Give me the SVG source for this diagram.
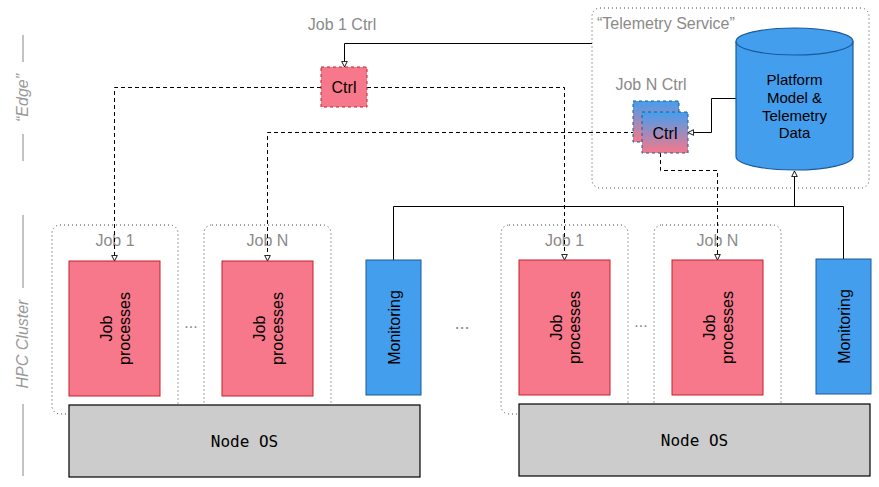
<svg xmlns="http://www.w3.org/2000/svg" width="879" height="487" viewBox="0 0 879 487">
<style>
.bg{fill:#ffffff}
.lbl{font-family:"Liberation Sans",Arial,Helvetica,sans-serif;font-size:16px;fill:#8a8a8a}
.side{font-family:"Liberation Sans",Arial,Helvetica,sans-serif;font-size:16px;fill:#999999;font-style:italic}
.txt{font-family:"Liberation Sans",Arial,Helvetica,sans-serif;font-size:16px;fill:#000000}
.ctxt{font-family:"Liberation Sans",Arial,Helvetica,sans-serif;font-size:16px;fill:#000000}
.dbtxt{font-family:"Liberation Sans",Arial,Helvetica,sans-serif;font-size:15px;fill:#000000}
.mono{font-family:"DejaVu Sans Mono","Liberation Mono",monospace;font-size:16px;fill:#000000}
.sideline{stroke:#888888;stroke-width:1;fill:none}
.group{fill:none;stroke:#444444;stroke-width:1;stroke-dasharray:1 3}
.job{fill:#F7788A;stroke:#C41E2A;stroke-width:1}
.mon{fill:#449EEE;stroke:#1A5A9A;stroke-width:1}
.os{fill:#CCCCCC;stroke:#000000;stroke-width:1.2}
.ctrl1{fill:#F7788A;stroke:#C41E2A;stroke-width:1;stroke-dasharray:3 3}
.ctrlN{fill:url(#gradN);stroke:#1A5A9A;stroke-width:1;stroke-dasharray:3 3}
.db{fill:#449EEE;stroke:#1A5A9A;stroke-width:1.2}
.solid{fill:none;stroke:#000000;stroke-width:1}
.dash{fill:none;stroke:#000000;stroke-width:1;stroke-dasharray:4 3}
.arr{marker-end:url(#open)}
</style>
<defs>
<linearGradient id="gradN" x1="0" y1="0" x2="0" y2="1">
<stop offset="0" stop-color="#449EEE"/>
<stop offset="1" stop-color="#F7788A"/>
</linearGradient>
<marker id="open" viewBox="0 0 10 10" refX="9" refY="5" markerWidth="7" markerHeight="7" markerUnits="userSpaceOnUse" orient="auto">
<path d="M1,1 L9,5 L1,9 Z" fill="#ffffff" stroke="#000000" stroke-width="1.3" stroke-dasharray="none"/>
</marker>
</defs>
<rect class="bg" x="0" y="0" width="879" height="487"/>

<g id="side-labels">
<line class="sideline" x1="23" y1="35" x2="23" y2="62"/>
<line class="sideline" x1="23" y1="134" x2="23" y2="161"/>
<text class="side" transform="translate(23,98) rotate(-90)" x="0" y="5" text-anchor="middle">“Edge”</text>
<line class="sideline" x1="23" y1="215" x2="23" y2="288"/>
<line class="sideline" x1="23" y1="404" x2="23" y2="476"/>
<text class="side" transform="translate(23,344) rotate(-90)" x="0" y="5" text-anchor="middle">HPC Cluster</text>
</g>

<g id="telemetry-service">
<rect class="group" x="592" y="8" width="277" height="180" rx="8"/>
<text class="lbl" x="597" y="28.5">“Telemetry Service”</text>
</g>

<g id="job1-left-group">
<rect class="group" x="52" y="225" width="126" height="189" rx="8"/>
<text class="lbl" x="115" y="245.5" text-anchor="middle">Job 1</text>
</g>
<g id="jobN-left-group">
<rect class="group" x="204" y="225" width="127" height="189" rx="8"/>
<text class="lbl" x="267.5" y="245.5" text-anchor="middle">Job N</text>
</g>
<g id="job1-right-group">
<rect class="group" x="501" y="225" width="127" height="189" rx="8"/>
<text class="lbl" x="564.5" y="245.5" text-anchor="middle">Job 1</text>
</g>
<g id="jobN-right-group">
<rect class="group" x="654" y="225" width="127" height="189" rx="8"/>
<text class="lbl" x="717.5" y="245.5" text-anchor="middle">Job N</text>
</g>

<g id="connectors">
<path class="solid arr" d="M592,43.5 H344.5 V67"/>
<path class="dash arr" d="M321,87.5 H114.5 V261"/>
<path class="dash arr" d="M367,87.5 H564.5 V260"/>
<path class="dash arr" d="M642,132.5 H267.5 V261"/>
<path class="dash arr" d="M660.5,153 V170.5 H717.5 V260"/>
<path class="solid arr" d="M736,98.5 H711.5 V132.5 H688"/>
<path class="solid" d="M393.5,260 V206.5 H843.5 V259"/>
<path class="solid arr" d="M794.5,206.5 V171"/>
</g>

<g id="job1-ctrl">
<text class="lbl" x="342" y="30" text-anchor="middle">Job 1 Ctrl</text>
<rect class="ctrl1" x="321" y="67" width="46" height="40"/>
<text class="ctxt" x="344" y="93" text-anchor="middle">Ctrl</text>
</g>

<g id="jobN-ctrl">
<text class="lbl" x="651" y="90" text-anchor="middle">Job N Ctrl</text>
<rect class="ctrlN" x="633" y="101" width="46" height="41"/>
<rect class="ctrlN" x="642" y="112" width="46" height="41"/>
<text class="ctxt" x="665" y="138.5" text-anchor="middle">Ctrl</text>
</g>

<g id="platform-db">
<path class="db" d="M736,41.5 A58.5,13.5 0 0 1 853,41.5 V156.5 A58.5,13.5 0 0 1 736,156.5 Z"/>
<path class="db" style="fill:none" d="M736,41.5 A58.5,13.5 0 0 0 853,41.5"/>
<text class="dbtxt" x="794.5" y="84.5" text-anchor="middle">Platform</text>
<text class="dbtxt" x="794.5" y="102.5" text-anchor="middle">Model &amp;</text>
<text class="dbtxt" x="794.5" y="120.5" text-anchor="middle">Telemetry</text>
<text class="dbtxt" x="794.5" y="138" text-anchor="middle">Data</text>
</g>

<g id="left-job1-processes">
<rect class="job" x="69" y="261" width="91" height="135"/>
<text class="txt" transform="translate(114.5,328.5) rotate(-90)" text-anchor="middle"><tspan x="0" y="-3">Job</tspan><tspan x="0" y="15">processes</tspan></text>
</g>
<g id="left-jobN-processes">
<rect class="job" x="222" y="261" width="91" height="135"/>
<text class="txt" transform="translate(267.5,328.5) rotate(-90)" text-anchor="middle"><tspan x="0" y="-3">Job</tspan><tspan x="0" y="15">processes</tspan></text>
</g>
<g id="left-monitoring">
<rect class="mon" x="366" y="260" width="55" height="135"/>
<text class="txt" transform="translate(393.5,327.5) rotate(-90)" x="0" y="6" text-anchor="middle">Monitoring</text>
</g>
<g id="left-node-os">
<rect class="os" x="69" y="405" width="351" height="72"/>
<text class="mono" x="244.5" y="446.5" text-anchor="middle">Node OS</text>
</g>

<g id="right-job1-processes">
<rect class="job" x="519" y="260" width="91" height="135"/>
<text class="txt" transform="translate(564.5,327.5) rotate(-90)" text-anchor="middle"><tspan x="0" y="-3">Job</tspan><tspan x="0" y="15">processes</tspan></text>
</g>
<g id="right-jobN-processes">
<rect class="job" x="672" y="260" width="91" height="135"/>
<text class="txt" transform="translate(717.5,327.5) rotate(-90)" text-anchor="middle"><tspan x="0" y="-3">Job</tspan><tspan x="0" y="15">processes</tspan></text>
</g>
<g id="right-monitoring">
<rect class="mon" x="816" y="259" width="55" height="135"/>
<text class="txt" transform="translate(843.5,326.5) rotate(-90)" x="0" y="6" text-anchor="middle">Monitoring</text>
</g>
<g id="right-node-os">
<rect class="os" x="519" y="404" width="351" height="72"/>
<text class="mono" x="694.5" y="445.5" text-anchor="middle">Node OS</text>
</g>

<g id="ellipses">
<text class="lbl" x="191" y="328" text-anchor="middle">...</text>
<text class="lbl" x="462" y="329" text-anchor="middle" style="font-size:18px">...</text>
<text class="lbl" x="641" y="327" text-anchor="middle">...</text>
</g>
</svg>
